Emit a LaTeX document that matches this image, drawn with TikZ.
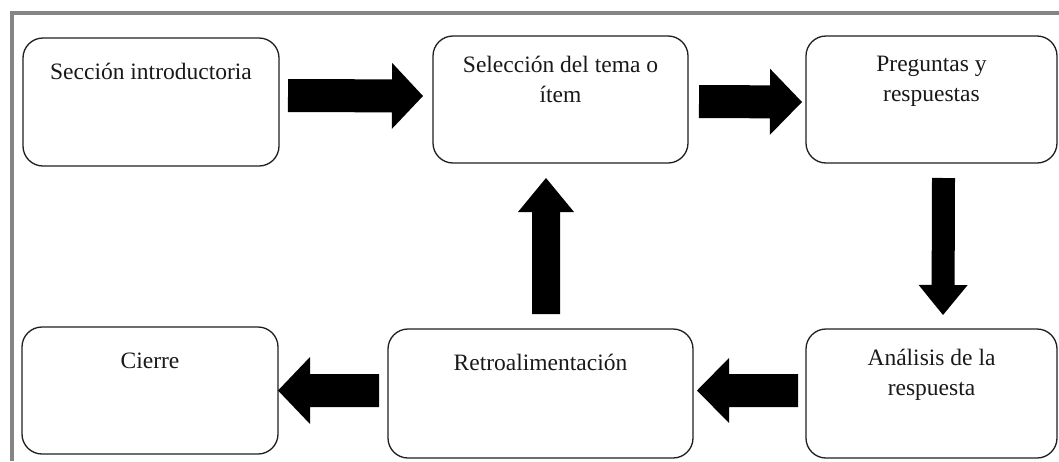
\documentclass[tikz,border=0pt]{standalone}
\usepackage{fontspec}
\setmainfont{Liberation Serif}
\usetikzlibrary{calc}

% filled block arrow: from, to, shaft half-width, head half-width, head length
\newcommand\blockarrow[5]{%
  \coordinate (ba-s) at (#1);
  \coordinate (ba-t) at (#2);
  \coordinate (ba-h) at ($(ba-t)!#5!(ba-s)$);
  \fill[arrowfill] ($(ba-s)!#3!90:(ba-t)$) -- ($(ba-h)!#3!-90:(ba-s)$)
    -- ($(ba-h)!#4!-90:(ba-s)$) -- (ba-t) -- ($(ba-h)!#4!90:(ba-s)$)
    -- ($(ba-h)!#3!90:(ba-s)$) -- ($(ba-s)!#3!-90:(ba-t)$) -- cycle;
}

\tikzset{
  frame/.style={draw=black!48, line width=4pt},
  stepbox/.style={draw=black!88, line width=1.3pt, rounded corners=20pt,
    outer sep=0pt, inner sep=0pt, fill=white},
  boxtext/.style={anchor=north, yshift=-20pt, inner sep=0pt, align=center,
    text=black!90, font=\fontsize{23.5}{30}\selectfont,
    execute at begin node=\strut},
  arrowfill/.style={fill=black},
}

\begin{document}
\begin{tikzpicture}[x=1pt, y=-1pt]
  \useasboundingbox (0,0) rectangle (1059,461);

  % outer frame (open to the right and bottom)
  \draw[frame] (12,461) -- (12,13) -- (1059,13);

  % process steps
  \node[stepbox, minimum width=256pt, minimum height=128pt,
        label={[boxtext]north:Sección introductoria}] (intro) at (151,102) {};
  \node[stepbox, minimum width=255pt, minimum height=127pt,
        label={[boxtext]north:Selección del tema o\\ítem}] (tema) at (560.5,99.5) {};
  \node[stepbox, minimum width=251pt, minimum height=127pt,
        label={[boxtext]north:Preguntas y\\respuestas}] (preg) at (931.5,99.5) {};
  \node[stepbox, minimum width=251pt, minimum height=129pt,
        label={[boxtext]north:Análisis de la\\respuesta}] (anal) at (931.5,393.5) {};
  \node[stepbox, minimum width=305pt, minimum height=129pt,
        label={[boxtext]north:Retroalimentación}] (retro) at (540.5,393.5) {};
  \node[stepbox, minimum width=256pt, minimum height=127pt,
        label={[boxtext]north:Cierre}] (cierre) at (150,390.5) {};

  % connectors
  \blockarrow{[shift={(9,-6.5)}]intro.east}{[shift={(-10,-3.5)}]tema.west}{16.5pt}{33pt}{31pt}
  \blockarrow{[shift={(11,2)}]tema.east}{[shift={(-4,2.5)}]preg.west}{16.5pt}{33pt}{32pt}
  \blockarrow{[shift={(12,15)}]preg.south}{[shift={(11.5,-14)}]anal.north}{11.5pt}{24.5pt}{30pt}
  \blockarrow{[shift={(-8,-3)}]anal.west}{[shift={(4,-3)}]retro.east}{16.5pt}{32.5pt}{32pt}
  \blockarrow{[shift={(-9,-3)}]retro.west}{cierre.east}{16.5pt}{33.5pt}{32pt}
  \blockarrow{[shift={(5.5,-15)}]retro.north}{[shift={(-14.5,15)}]tema.south}{14pt}{28pt}{34pt}
\end{tikzpicture}
\end{document}
